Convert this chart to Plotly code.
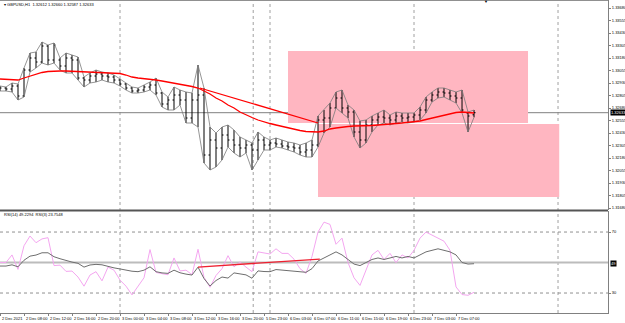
import plotly.graph_objects as go

# ---------------- data ----------------
bars = list(range(80))  # H1 bars, 2 Dec 04:00 ... 7 Dec 10:00

opens = [1.32870, 1.32880, 1.32870, 1.32900, 1.32800, 1.33060, 1.33180, 1.33140, 1.33300, 1.33160,
         1.33160, 1.33100, 1.33180, 1.33160, 1.32980, 1.32960, 1.33000, 1.33020, 1.33000, 1.32990,
         1.32960, 1.32920, 1.32880, 1.32850, 1.32860, 1.32890, 1.32910, 1.32830, 1.32720, 1.32760,
         1.32810, 1.32760, 1.32580, 1.32760, 1.32810, 1.32210, 1.32360, 1.32280, 1.32410, 1.32360,
         1.32310, 1.32280, 1.32310, 1.32260, 1.32360, 1.32310, 1.32330, 1.32320, 1.32300, 1.32290,
         1.32280, 1.32240, 1.32260, 1.32310, 1.32560, 1.32580, 1.32680, 1.32780, 1.32680, 1.32640,
         1.32440, 1.32360, 1.32510, 1.32560, 1.32590, 1.32580, 1.32560, 1.32600, 1.32580, 1.32590,
         1.32610, 1.32660, 1.32760, 1.32810, 1.32840, 1.32830, 1.32800, 1.32780, 1.32630, 1.32612]
highs = [1.32900, 1.32890, 1.32930, 1.32920, 1.33080, 1.33230, 1.33240, 1.33340, 1.33310, 1.33330,
         1.33180, 1.33230, 1.33210, 1.33190, 1.32990, 1.33030, 1.33060, 1.33040, 1.33030, 1.33010,
         1.32970, 1.32930, 1.32890, 1.32880, 1.32910, 1.32940, 1.32980, 1.32840, 1.32790, 1.32890,
         1.32860, 1.32840, 1.32830, 1.33110, 1.32880, 1.32490, 1.32430, 1.32490, 1.32510, 1.32460,
         1.32390, 1.32360, 1.32330, 1.32440, 1.32390, 1.32360, 1.32380, 1.32360, 1.32340, 1.32330,
         1.32310, 1.32330, 1.32360, 1.32600, 1.32660, 1.32730, 1.32840, 1.32860, 1.32710, 1.32660,
         1.32550, 1.32560, 1.32600, 1.32630, 1.32660, 1.32610, 1.32640, 1.32630, 1.32630, 1.32630,
         1.32690, 1.32790, 1.32840, 1.32880, 1.32880, 1.32860, 1.32840, 1.32860, 1.32640, 1.32660]
lows = [1.32850, 1.32850, 1.32840, 1.32760, 1.32790, 1.33040, 1.33080, 1.33130, 1.33110, 1.33130,
        1.33060, 1.33030, 1.33030, 1.32960, 1.32890, 1.32930, 1.32940, 1.32960, 1.32940, 1.32930,
        1.32900, 1.32860, 1.32830, 1.32830, 1.32840, 1.32860, 1.32810, 1.32690, 1.32660, 1.32660,
        1.32710, 1.32530, 1.32530, 1.32490, 1.32130, 1.32060, 1.32090, 1.32160, 1.32290, 1.32230,
        1.32190, 1.32230, 1.32060, 1.32160, 1.32260, 1.32260, 1.32290, 1.32280, 1.32260, 1.32240,
        1.32210, 1.32190, 1.32190, 1.32290, 1.32430, 1.32490, 1.32680, 1.32630, 1.32580, 1.32390,
        1.32280, 1.32330, 1.32440, 1.32510, 1.32530, 1.32510, 1.32530, 1.32540, 1.32530, 1.32540,
        1.32560, 1.32630, 1.32740, 1.32780, 1.32790, 1.32760, 1.32730, 1.32630, 1.32440, 1.32587]
closes = [1.32880, 1.32870, 1.32900, 1.32800, 1.33060, 1.33180, 1.33140, 1.33300, 1.33160, 1.33310,
          1.33100, 1.33180, 1.33160, 1.32980, 1.32960, 1.33000, 1.33020, 1.33000, 1.32990, 1.32960,
          1.32920, 1.32880, 1.32850, 1.32860, 1.32890, 1.32910, 1.32830, 1.32720, 1.32760, 1.32810,
          1.32760, 1.32580, 1.32760, 1.32810, 1.32210, 1.32360, 1.32280, 1.32410, 1.32360, 1.32310,
          1.32280, 1.32310, 1.32260, 1.32360, 1.32310, 1.32330, 1.32320, 1.32300, 1.32290, 1.32280,
          1.32240, 1.32260, 1.32310, 1.32560, 1.32580, 1.32680, 1.32780, 1.32680, 1.32640, 1.32440,
          1.32360, 1.32510, 1.32560, 1.32590, 1.32580, 1.32560, 1.32600, 1.32580, 1.32590, 1.32610,
          1.32660, 1.32760, 1.32810, 1.32840, 1.32830, 1.32800, 1.32780, 1.32660, 1.32600, 1.32633]
ma = [1.32970, 1.32965, 1.32960, 1.32960, 1.32980, 1.33000, 1.33020, 1.33035, 1.33045, 1.33050,
      1.33050, 1.33050, 1.33047, 1.33043, 1.33040, 1.33035, 1.33032, 1.33030, 1.33030, 1.33030,
      1.33025, 1.33010, 1.32990, 1.32980, 1.32975, 1.32970, 1.32960, 1.32950, 1.32940, 1.32930,
      1.32920, 1.32910, 1.32895, 1.32880, 1.32850, 1.32820, 1.32780, 1.32750, 1.32710, 1.32680,
      1.32640, 1.32610, 1.32585, 1.32560, 1.32540, 1.32525, 1.32510, 1.32495, 1.32480, 1.32465,
      1.32455, 1.32445, 1.32440, 1.32440, 1.32450, 1.32470, 1.32480, 1.32490, 1.32495, 1.32500,
      1.32500, 1.32502, 1.32505, 1.32510, 1.32513, 1.32518, 1.32525, 1.32530, 1.32535, 1.32540,
      1.32550, 1.32565, 1.32580, 1.32595, 1.32610, 1.32625, 1.32635, 1.32640, 1.32635, 1.32630]

rsi14 = [47.7, 47.7, 48.5, 47.2, 51.5, 54.2, 54.9, 56.4, 56.4, 53.8,
         52.5, 51.2, 50.3, 49.5, 47.0, 48.4, 48.8, 48.5, 47.4, 46.5,
         45.8, 45.0, 44.3, 44.0, 45.0, 47.2, 44.0, 43.2, 42.9, 45.0,
         43.3, 42.4, 41.8, 47.0, 39.5, 34.6, 38.2, 40.5, 39.8, 43.2,
         42.5, 41.9, 39.7, 44.5, 44.1, 44.0, 45.4, 45.1, 44.7, 44.5,
         44.2, 43.6, 46.0, 51.0, 53.0, 55.0, 57.0, 55.0, 52.0, 49.0,
         48.0, 50.0, 52.0, 53.0, 52.0, 53.0, 54.0, 53.0, 54.0, 53.0,
         55.0, 57.0, 58.0, 59.0, 58.0, 57.0, 55.0, 50.0, 49.0, 49.23]
rsi3 = [50.0, 50.0, 55.0, 45.5, 61.0, 67.4, 63.0, 65.5, 66.3, 48.0,
        48.3, 44.2, 44.4, 40.5, 34.5, 41.8, 44.0, 38.0, 47.0, 45.0,
        38.5, 34.5, 28.8, 34.0, 40.0, 58.5, 43.5, 42.7, 42.0, 53.0,
        44.5, 45.0, 42.0, 58.7, 40.3, 33.8, 41.5, 46.0, 54.5, 47.2,
        50.4, 47.0, 44.0, 57.0, 56.4, 55.6, 59.0, 56.0, 56.0, 52.2,
        46.0, 42.9, 54.0, 70.0, 76.5, 75.0, 62.0, 66.0, 50.0, 40.0,
        35.0, 45.0, 55.0, 58.0, 52.0, 56.0, 50.0, 55.0, 53.0, 58.0,
        66.0, 70.0, 68.0, 66.0, 64.0, 58.0, 34.0, 29.0, 28.5, 30.5]

# drawn objects (bar index, value)
rect_a = [48, 1.33250, 88, 1.32530]
rect_b = [53, 1.32520, 93.2, 1.31790]
trend_price = [33.3, 1.32880, 53, 1.32530]
trend_rsi = [33, 47.0, 53.3, 52.3]
separators = [20, 42.2, 45, 69, 93]
bid_price = 1.32633

price_ticks = [1.33680, 1.33555, 1.33430, 1.33305, 1.33180, 1.33055, 1.32930, 1.32805,
               1.32680, 1.32555, 1.32430, 1.32305, 1.32180, 1.32055, 1.31930, 1.31805, 1.31680]
rsi_ticks = [70, 30]
time_pos = [0, 4, 8, 12, 16, 20, 24, 28, 32, 36, 40, 44, 48, 52, 56, 60, 64, 68, 72, 76]
time_labels = ["2 Dec 2021", "2 Dec 08:00", "2 Dec 12:00", "2 Dec 16:00", "2 Dec 20:00",
               "3 Dec 00:00", "3 Dec 04:00", "3 Dec 08:00", "3 Dec 12:00", "3 Dec 16:00",
               "3 Dec 20:00", "5 Dec 23:00", "6 Dec 03:00", "6 Dec 07:00", "6 Dec 11:00",
               "6 Dec 15:00", "6 Dec 19:00", "6 Dec 23:00", "7 Dec 03:00", "7 Dec 07:00"]

# ---------------- figure ----------------
W, H = 625, 323
PH = 313.0  # plot area height in px
FONT = "Liberation Sans"


def py(p):
    return (PH - p) / PH


fig = go.Figure()
fig.add_trace(go.Scatter(x=bars, y=highs, mode="lines", line=dict(color="#7a7a7a", width=0.8),
                         hoverinfo="skip", showlegend=False))
fig.add_trace(go.Scatter(x=bars, y=lows, mode="lines", line=dict(color="#7a7a7a", width=0.8),
                         hoverinfo="skip", showlegend=False))
fig.add_trace(go.Ohlc(x=bars, open=opens, high=highs, low=lows, close=closes,
                      increasing=dict(line=dict(color="#000000", width=1)),
                      decreasing=dict(line=dict(color="#000000", width=1)),
                      tickwidth=0.25, showlegend=False))
fig.add_trace(go.Scatter(x=bars, y=ma, mode="lines", line=dict(color="#ff0000", width=1.3),
                         showlegend=False))
fig.add_trace(go.Scatter(x=bars, y=rsi3, mode="lines", line=dict(color="#f4a6f0", width=1),
                         yaxis="y2", showlegend=False))
fig.add_trace(go.Scatter(x=bars, y=rsi14, mode="lines", line=dict(color="#6e6e6e", width=1),
                         yaxis="y2", showlegend=False))

shapes = []
for r in (rect_a, rect_b):
    shapes.append(dict(type="rect", xref="x", yref="y", x0=r[0], x1=r[2], y0=r[1], y1=r[3],
                       fillcolor="#ffb6c1", line=dict(width=0), layer="below"))
for s in separators:
    shapes.append(dict(type="line", xref="x", yref="paper", x0=s, x1=s, y0=0, y1=1,
                       line=dict(color="#a0a0a0", width=1, dash="dot"), layer="below"))
shapes.append(dict(type="line", xref="paper", yref="y", x0=0, x1=1, y0=bid_price, y1=bid_price,
                   line=dict(color="#808080", width=1), layer="below"))
for lv in rsi_ticks:
    shapes.append(dict(type="line", xref="paper", yref="y2", x0=0, x1=1, y0=lv, y1=lv,
                       line=dict(color="#909090", width=1, dash="dot"), layer="below"))
shapes.append(dict(type="line", xref="paper", yref="y2", x0=0, x1=1, y0=50, y1=50,
                   line=dict(color="#bcbcbc", width=2), layer="below"))
shapes.append(dict(type="line", xref="x", yref="y", x0=trend_price[0], x1=trend_price[2],
                   y0=trend_price[1], y1=trend_price[3], line=dict(color="#ff0000", width=1.3)))
shapes.append(dict(type="line", xref="x", yref="y2", x0=trend_rsi[0], x1=trend_rsi[2],
                   y0=trend_rsi[1], y1=trend_rsi[3], line=dict(color="#ee2030", width=1.3)))
# pane separator and top border
shapes.append(dict(type="line", xref="paper", yref="paper", x0=0, x1=1, y0=py(210.5), y1=py(210.5),
                   line=dict(color="#555555", width=2)))
shapes.append(dict(type="line", xref="paper", yref="paper", x0=0, x1=1, y0=py(0.5), y1=py(0.5),
                   line=dict(color="#909090", width=1)))

ann = []
ann.append(dict(text="▾ GBPUSD,H1  1.32612 1.32660 1.32587 1.32633", xref="paper", yref="paper",
                x=0.003, y=py(5), xanchor="left", yanchor="middle", showarrow=False,
                font=dict(size=4, color="#000000", family=FONT)))
ann.append(dict(text="RSI(14) 49.2294  RSI(3) 23.7548", xref="paper", yref="paper",
                x=0.003, y=py(214.5), xanchor="left", yanchor="middle", showarrow=False,
                font=dict(size=4, color="#000000", family=FONT)))
for p, t in zip(time_pos, time_labels):
    ann.append(dict(text=t, xref="x", yref="paper", x=p, y=py(318), xanchor="left",
                    yanchor="middle", showarrow=False,
                    font=dict(size=4, color="#000000", family=FONT)))
ann.append(dict(text="%.5f" % bid_price, xref="paper", yref="y", x=1.003, y=bid_price,
                xanchor="left", yanchor="middle", showarrow=False, bgcolor="#000000",
                borderpad=0, font=dict(size=4, color="#ffffff", family=FONT)))
ann.append(dict(text="%d" % round(rsi14[-1]), xref="paper", yref="y2", x=1.003, y=rsi14[-1],
                xanchor="left", yanchor="middle", showarrow=False, bgcolor="#000000",
                borderpad=0, font=dict(size=4, color="#ffffff", family=FONT)))
ann.append(dict(text="▼", xref="x", yref="paper", x=81, y=py(1), xanchor="center",
                yanchor="middle", showarrow=False, font=dict(size=4, color="#000000")))

fig.update_layout(
    width=W, height=H, autosize=False, template="none",
    margin=dict(l=0, r=17, t=0, b=10, pad=0),
    paper_bgcolor="#ffffff", plot_bgcolor="#ffffff",
    showlegend=False, shapes=shapes, annotations=ann,
    xaxis=dict(domain=[0, 1], range=[0, 101.33], anchor="y2", showgrid=False, zeroline=False,
               showline=True, linecolor="#808080", linewidth=1, ticks="outside", ticklen=2,
               tickcolor="#808080", tickvals=time_pos, showticklabels=False,
               rangeslider=dict(visible=False), fixedrange=True),
    yaxis=dict(domain=[py(210), 1], range=[1.3166, 1.3376], side="right", anchor="x",
               showgrid=False, zeroline=False, showline=True, linecolor="#808080", linewidth=1,
               ticks="outside", ticklen=2, tickcolor="#808080",
               tickvals=price_ticks, ticktext=["%.5f" % v for v in price_ticks],
               tickfont=dict(size=4, color="#000000", family=FONT), automargin=False),
    yaxis2=dict(domain=[0, py(211)], range=[16.9, 83.8], side="right", anchor="x",
                showgrid=False, zeroline=False, showline=True, linecolor="#808080", linewidth=1,
                ticks="outside", ticklen=2, tickcolor="#808080",
                tickvals=rsi_ticks, ticktext=[str(v) for v in rsi_ticks],
                tickfont=dict(size=4, color="#000000", family=FONT), automargin=False),
)

fig.write_html("out.html")
